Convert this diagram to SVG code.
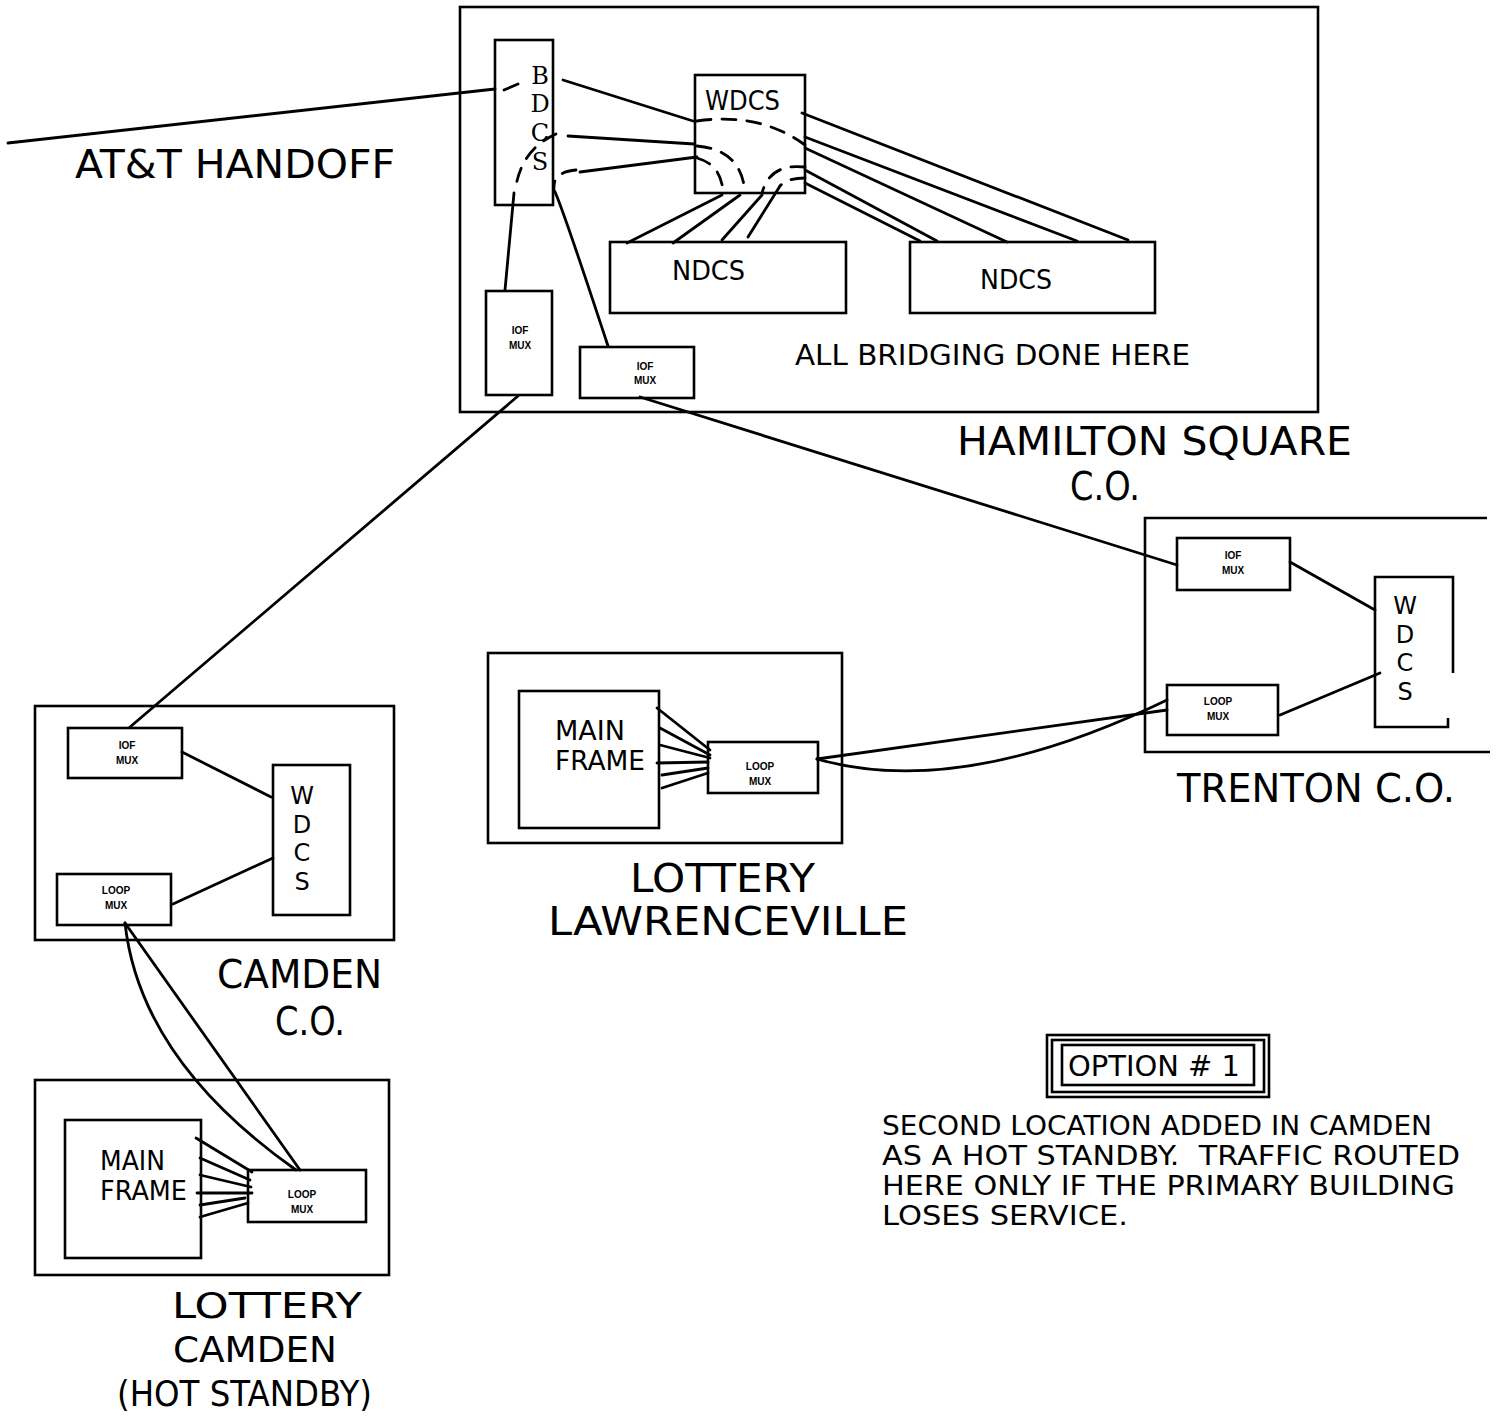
<svg xmlns="http://www.w3.org/2000/svg" width="1497" height="1416" viewBox="0 0 1497 1416">
<style>
.box{fill:none;stroke:#000;stroke-width:2.6}
.ln{fill:none;stroke:#000;stroke-width:2.8;stroke-linecap:round}
.dash{fill:none;stroke:#000;stroke-width:2.8;stroke-dasharray:14 11;stroke-linecap:round}
.t{font-family:"DejaVu Sans","Liberation Sans",sans-serif;fill:#000}
.big{font-size:39px}
.lc{font-size:36px}
.mid{font-size:29px}
.sm{font-size:26px}
.vl{font-size:24px}
.tiny{font-size:10px;font-weight:bold;font-family:"Liberation Sans",sans-serif;text-anchor:middle}
.c{text-anchor:middle}
</style>
<rect width="1497" height="1416" fill="#fff"/>

<g id="connectors">
  <path class="ln" d="M8,143 L495,89"/>
  <path class="ln" d="M504,90 L518,84"/>
  <path class="ln" d="M563,80 L693,121"/>
  <path class="ln" d="M568,136 L694,144"/>
  <path class="ln" d="M580,172 L697,157"/>
  <path class="dash" d="M556,134 Q520,150 515,192"/>
  <path class="dash" d="M576,170 Q553,172 554,188"/>
  <path class="ln" d="M514,193 L505,290"/>
  <path class="ln" d="M554,190 Q560,200 608,346"/>
  <path class="dash" d="M697,121 Q760,112 805,145"/>
  <path class="dash" d="M697,146 Q742,150 745,193"/>
  <path class="dash" d="M697,158 Q722,165 723,193"/>
  <path class="dash" d="M805,167 Q770,163 762,193"/>
  <path class="dash" d="M805,178 Q787,178 780,186"/>
  <path class="ln" d="M722,195 L627,243"/>
  <path class="ln" d="M740,195 L673,243"/>
  <path class="ln" d="M762,195 L722,240"/>
  <path class="ln" d="M780,186 L748,237"/>
  <path class="ln" d="M802,113 L1128,240"/>
  <path class="ln" d="M805,137 L1077,241"/>
  <path class="ln" d="M805,148 L1007,242"/>
  <path class="ln" d="M805,170 L937,241"/>
  <path class="ln" d="M805,183 L920,241"/>
  <path class="ln" d="M518,396 L130,727"/>
  <path class="ln" d="M640,397 L1177,565"/>
  <path class="ln" d="M1290,562 L1375,610"/>
  <path class="ln" d="M1280,715 L1380,673"/>
  <path class="ln" d="M817,759 L1167,710"/>
  <path class="ln" d="M817,759 Q960,800 1167,700"/>
  <path class="ln" d="M657,708 L710,750"/>
  <path class="ln" d="M660,728 L710,755"/>
  <path class="ln" d="M660,745 L710,758"/>
  <path class="ln" d="M657,763 L708,762"/>
  <path class="ln" d="M662,775 L708,768"/>
  <path class="ln" d="M662,788 L708,773"/>
  <path class="ln" d="M182,752 L271,797"/>
  <path class="ln" d="M173,904 L273,858"/>
  <path class="ln" d="M125,923 L300,1170"/>
  <path class="ln" d="M125,923 Q140,1060 296,1170"/>
  <path class="ln" d="M196,1138 L252,1172"/>
  <path class="ln" d="M200,1158 L250,1180"/>
  <path class="ln" d="M200,1175 L251,1187"/>
  <path class="ln" d="M197,1193 L252,1193"/>
  <path class="ln" d="M200,1205 L245,1198"/>
  <path class="ln" d="M200,1217 L248,1203"/>
</g>

<g id="hamilton-square">
  <rect class="box" x="460" y="7" width="858" height="405"/>
  <text class="t big" x="957" y="455" textLength="395" lengthAdjust="spacingAndGlyphs">HAMILTON SQUARE</text>
  <text class="t big" x="1070" y="500" textLength="70" lengthAdjust="spacingAndGlyphs">C.O.</text>
  <text class="t mid" x="795" y="365" textLength="395" lengthAdjust="spacingAndGlyphs">ALL BRIDGING DONE HERE</text>
</g>
<g id="bdcs">
  <rect class="box" x="495" y="40" width="58" height="165"/>
  <g class="t c vl" style="font-family:'DejaVu Serif','Liberation Serif',serif">
    <text x="540" y="84">B</text>
    <text x="540" y="112">D</text>
    <text x="540" y="141">C</text>
    <text x="540" y="170">S</text>
  </g>
</g>
<g id="wdcs-hamilton">
  <rect class="box" x="695" y="75" width="110" height="118"/>
  <text class="t sm" x="705" y="110" textLength="75" lengthAdjust="spacingAndGlyphs">WDCS</text>
</g>
<g id="ndcs-1">
  <rect class="box" x="610" y="242" width="236" height="71"/>
  <text class="t sm" x="672" y="280" textLength="73" lengthAdjust="spacingAndGlyphs">NDCS</text>
</g>
<g id="ndcs-2">
  <rect class="box" x="910" y="242" width="245" height="71"/>
  <text class="t sm" x="980" y="289" textLength="72" lengthAdjust="spacingAndGlyphs">NDCS</text>
</g>
<g id="iof-mux-h1">
  <rect class="box" x="486" y="291" width="66" height="104"/>
  <text class="t tiny" x="520" y="334">IOF</text>
  <text class="t tiny" x="520" y="349">MUX</text>
</g>
<g id="iof-mux-h2">
  <rect class="box" x="580" y="347" width="114" height="51"/>
  <text class="t tiny" x="645" y="370">IOF</text>
  <text class="t tiny" x="645" y="384">MUX</text>
</g>

<g id="at-t-handoff">
  <text class="t big" x="75" y="178" textLength="320" lengthAdjust="spacingAndGlyphs">AT&amp;T HANDOFF</text>
</g>

<g id="trenton">
  <path class="box" d="M1487,518 L1145,518 L1145,752 L1490,752"/>
  <text class="t big" x="1177" y="802" textLength="278" lengthAdjust="spacingAndGlyphs">TRENTON C.O.</text>
</g>
<g id="iof-mux-t">
  <rect class="box" x="1177" y="538" width="113" height="52"/>
  <text class="t tiny" x="1233" y="559">IOF</text>
  <text class="t tiny" x="1233" y="574">MUX</text>
</g>
<g id="wdcs-trenton">
  <path class="box" d="M1453,673 L1453,577 L1375,577 L1375,727 L1448,727 L1448,718"/>
  <g class="t c vl">
    <text x="1405" y="614">W</text>
    <text x="1405" y="643">D</text>
    <text x="1405" y="671">C</text>
    <text x="1405" y="700">S</text>
  </g>
</g>
<g id="loop-mux-t">
  <rect class="box" x="1167" y="685" width="111" height="50"/>
  <text class="t tiny" x="1218" y="705">LOOP</text>
  <text class="t tiny" x="1218" y="720">MUX</text>
</g>

<g id="lottery-lawrenceville">
  <rect class="box" x="488" y="653" width="354" height="190"/>
  <text class="t big" x="630" y="892" textLength="185" lengthAdjust="spacingAndGlyphs">LOTTERY</text>
  <text class="t big" x="548" y="935" textLength="360" lengthAdjust="spacingAndGlyphs">LAWRENCEVILLE</text>
</g>
<g id="main-frame-l">
  <rect class="box" x="519" y="691" width="140" height="137"/>
  <text class="t sm" x="555" y="740" textLength="70" lengthAdjust="spacingAndGlyphs">MAIN</text>
  <text class="t sm" x="555" y="770" textLength="90" lengthAdjust="spacingAndGlyphs">FRAME</text>
</g>
<g id="loop-mux-l">
  <rect class="box" x="708" y="742" width="110" height="51"/>
  <text class="t tiny" x="760" y="770">LOOP</text>
  <text class="t tiny" x="760" y="785">MUX</text>
</g>

<g id="camden">
  <rect class="box" x="35" y="706" width="359" height="234"/>
  <text class="t big" x="217" y="988" textLength="165" lengthAdjust="spacingAndGlyphs">CAMDEN</text>
  <text class="t big" x="275" y="1035" textLength="70" lengthAdjust="spacingAndGlyphs">C.O.</text>
</g>
<g id="iof-mux-c">
  <rect class="box" x="68" y="728" width="114" height="50"/>
  <text class="t tiny" x="127" y="749">IOF</text>
  <text class="t tiny" x="127" y="764">MUX</text>
</g>
<g id="wdcs-camden">
  <rect class="box" x="273" y="765" width="77" height="150"/>
  <g class="t c vl">
    <text x="302" y="804">W</text>
    <text x="302" y="833">D</text>
    <text x="302" y="861">C</text>
    <text x="302" y="890">S</text>
  </g>
</g>
<g id="loop-mux-c">
  <rect class="box" x="57" y="874" width="114" height="51"/>
  <text class="t tiny" x="116" y="894">LOOP</text>
  <text class="t tiny" x="116" y="909">MUX</text>
</g>

<g id="lottery-camden">
  <rect class="box" x="35" y="1080" width="354" height="195"/>
  <text class="t lc" x="172" y="1318" textLength="190" lengthAdjust="spacingAndGlyphs">LOTTERY</text>
  <text class="t lc" x="173" y="1362" textLength="164" lengthAdjust="spacingAndGlyphs">CAMDEN</text>
  <text class="t lc" x="117" y="1406" textLength="255" lengthAdjust="spacingAndGlyphs">(HOT STANDBY)</text>
</g>
<g id="main-frame-c">
  <rect class="box" x="65" y="1120" width="136" height="138"/>
  <text class="t sm" x="100" y="1170" textLength="65" lengthAdjust="spacingAndGlyphs">MAIN</text>
  <text class="t sm" x="100" y="1200" textLength="87" lengthAdjust="spacingAndGlyphs">FRAME</text>
</g>
<g id="loop-mux-lc">
  <rect class="box" x="248" y="1170" width="118" height="52"/>
  <text class="t tiny" x="302" y="1198">LOOP</text>
  <text class="t tiny" x="302" y="1213">MUX</text>
</g>

<g id="option">
  <rect class="box" x="1047" y="1035" width="222" height="62"/>
  <rect class="box" x="1052" y="1040" width="212" height="52"/>
  <rect class="box" x="1062" y="1045" width="192" height="40"/>
  <text class="t mid" x="1068" y="1076" textLength="172" lengthAdjust="spacingAndGlyphs">OPTION # 1</text>
  <g class="t sm">
    <text x="882" y="1135" textLength="550" lengthAdjust="spacingAndGlyphs">SECOND LOCATION ADDED IN CAMDEN</text>
    <text x="882" y="1165" textLength="578" lengthAdjust="spacingAndGlyphs" xml:space="preserve">AS A HOT STANDBY.  TRAFFIC ROUTED</text>
    <text x="882" y="1195" textLength="573" lengthAdjust="spacingAndGlyphs">HERE ONLY IF THE PRIMARY BUILDING</text>
    <text x="882" y="1225" textLength="246" lengthAdjust="spacingAndGlyphs">LOSES SERVICE.</text>
  </g>
</g>
</svg>
